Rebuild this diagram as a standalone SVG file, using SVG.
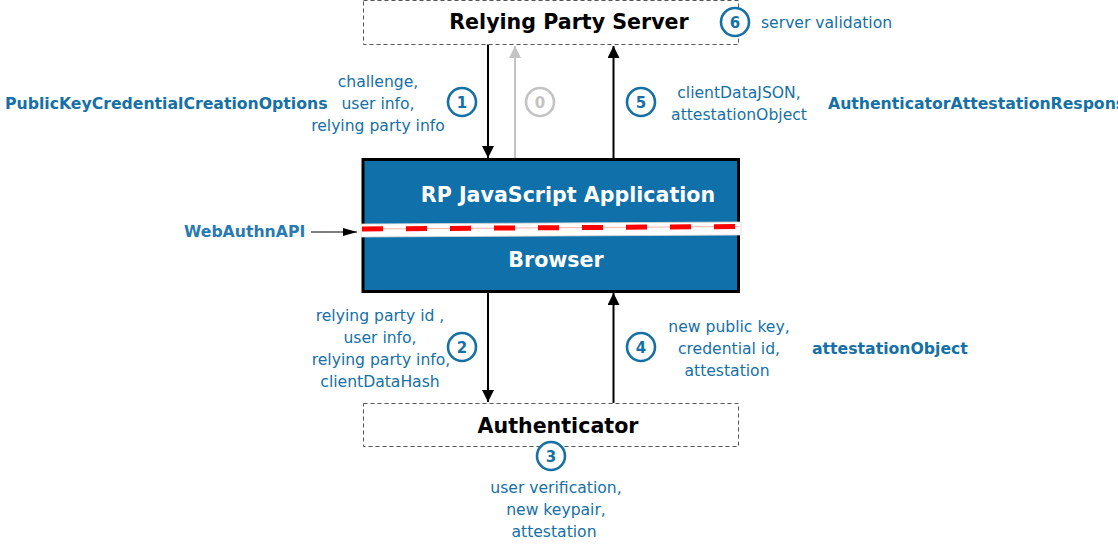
<svg xmlns="http://www.w3.org/2000/svg" width="1118" height="547" viewBox="0 0 1118 547">
  <style>
    text { font-family: "DejaVu Sans", "Liberation Sans", sans-serif; }
    .lbl { font-size: 15.6px; fill: #1570a6; text-anchor: middle; }
    .lbl-l { font-size: 15.6px; fill: #1570a6; }
    .api { font-size: 15.7px; font-weight: bold; fill: #1570a6; }
    .title { font-size: 20.6px; font-weight: bold; fill: #000; text-anchor: middle; }
    .title-w { font-size: 20.6px; font-weight: bold; fill: #fff; text-anchor: middle; }
    .dash-box { fill: #fff; stroke: #555; stroke-width: 1; stroke-dasharray: 4 3; }
    .step circle { fill: #fff; stroke: #1570a6; stroke-width: 2.6; }
    .step text { font-size: 15px; font-weight: bold; fill: #1570a6; text-anchor: middle; }
    .step.off circle { stroke: #c3c3c3; }
    .step.off text { fill: #c3c3c3; }
    .flow { stroke: #000; stroke-width: 2; fill: none; }
    .flow-grey { stroke: #c3c3c3; stroke-width: 2; fill: none; }
  </style>
  <defs>
    <marker id="head" viewBox="0 0 12 15" refX="12" refY="6" markerWidth="12" markerHeight="15" markerUnits="userSpaceOnUse" orient="auto">
      <path d="M0,0 L15,6 L0,12 Z" fill="#000" transform="scale(0.8,1)"/>
    </marker>
    <marker id="head-grey" viewBox="0 0 12 15" refX="12" refY="6" markerWidth="12" markerHeight="15" markerUnits="userSpaceOnUse" orient="auto">
      <path d="M0,0 L15,6 L0,12 Z" fill="#c3c3c3" transform="scale(0.8,1)"/>
    </marker>
    <marker id="head-small" viewBox="0 0 14 8" refX="14" refY="4" markerWidth="14" markerHeight="8" markerUnits="userSpaceOnUse" orient="auto">
      <path d="M0,0 L14,4 L0,8 Z" fill="#000"/>
    </marker>
  </defs>

  <!-- connectors -->
  <g id="connectors">
    <line class="flow" x1="488" y1="44" x2="488" y2="158" marker-end="url(#head)"/>
    <line class="flow-grey" x1="515" y1="158" x2="515" y2="46" marker-end="url(#head-grey)"/>
    <line class="flow" x1="613.5" y1="158" x2="613.5" y2="46" marker-end="url(#head)"/>
    <line class="flow" x1="488" y1="292" x2="488" y2="402" marker-end="url(#head)"/>
    <line class="flow" x1="613.5" y1="403" x2="613.5" y2="293" marker-end="url(#head)"/>
    <line stroke="#000" stroke-width="1.2" x1="311" y1="232" x2="357" y2="232" marker-end="url(#head-small)"/>
  </g>

  <!-- relying party server -->
  <g id="rp-server">
    <rect class="dash-box" x="363.5" y="0.5" width="375" height="44"/>
    <text class="title" x="569" y="29">Relying Party Server</text>
  </g>

  <!-- browser with RP application -->
  <g id="browser">
    <rect x="363" y="159.5" width="375.5" height="132" fill="#0f70aa" stroke="#000" stroke-width="3"/>
    <text class="title-w" x="568" y="202">RP JavaScript Application</text>
    <text class="title-w" x="556" y="267">Browser</text>
    <polygon points="361,224 741,222 741,235 361,237" fill="#fff" stroke="#d8d8d8" stroke-width="0.8"/>
    <line x1="362" y1="229" x2="739" y2="226.5" stroke="#ffb0b0" stroke-width="1"/>
    <line x1="362" y1="229" x2="739" y2="226.5" stroke="#ff0000" stroke-width="5" stroke-dasharray="21 23"/>
  </g>

  <!-- authenticator -->
  <g id="authenticator">
    <rect class="dash-box" x="363.5" y="403.5" width="375" height="43"/>
    <text class="title" x="558" y="433">Authenticator</text>
  </g>

  <!-- WebAuthn API label -->
  <g id="webauthn-api">
    <text class="api" x="184" y="237" style="fill:#2a7ab2">WebAuthnAPI</text>
  </g>

  <!-- step markers -->
  <g id="step-0" class="step off"><circle cx="540" cy="102" r="14"/><text x="540" y="108">0</text></g>
  <g id="step-1" class="step"><circle cx="462" cy="102" r="14"/><text x="462" y="108">1</text></g>
  <g id="step-2" class="step"><circle cx="462" cy="347" r="14"/><text x="462" y="353">2</text></g>
  <g id="step-3" class="step"><circle cx="551" cy="456" r="14"/><text x="551" y="462">3</text></g>
  <g id="step-4" class="step"><circle cx="641" cy="347" r="14"/><text x="641" y="353">4</text></g>
  <g id="step-5" class="step"><circle cx="641" cy="102" r="14"/><text x="641" y="108">5</text></g>
  <g id="step-6" class="step"><circle cx="735" cy="22" r="14"/><text x="735" y="28">6</text></g>

  <!-- step labels -->
  <g id="labels">
    <text class="lbl-l" x="761" y="28">server validation</text>

    <text class="api" x="5" y="109">PublicKeyCredentialCreationOptions</text>
    <text class="lbl" x="378" y="87">challenge,</text>
    <text class="lbl" x="378" y="109">user info,</text>
    <text class="lbl" x="378" y="131">relying party info</text>

    <text class="lbl" x="739" y="98">clientDataJSON,</text>
    <text class="lbl" x="739" y="120">attestationObject</text>
    <text class="api" x="828" y="109">AuthenticatorAttestationResponse</text>

    <text class="lbl" x="380" y="321">relying party id ,</text>
    <text class="lbl" x="380" y="343">user info,</text>
    <text class="lbl" x="381" y="365">relying party info,</text>
    <text class="lbl" x="380" y="387">clientDataHash</text>

    <text class="lbl" x="729" y="332">new public key,</text>
    <text class="lbl" x="729" y="354">credential id,</text>
    <text class="lbl" x="727" y="376">attestation</text>
    <text class="api" x="812" y="354">attestationObject</text>

    <text class="lbl" x="556" y="493">user verification,</text>
    <text class="lbl" x="556" y="515">new keypair,</text>
    <text class="lbl" x="554" y="537">attestation</text>
  </g>
</svg>
